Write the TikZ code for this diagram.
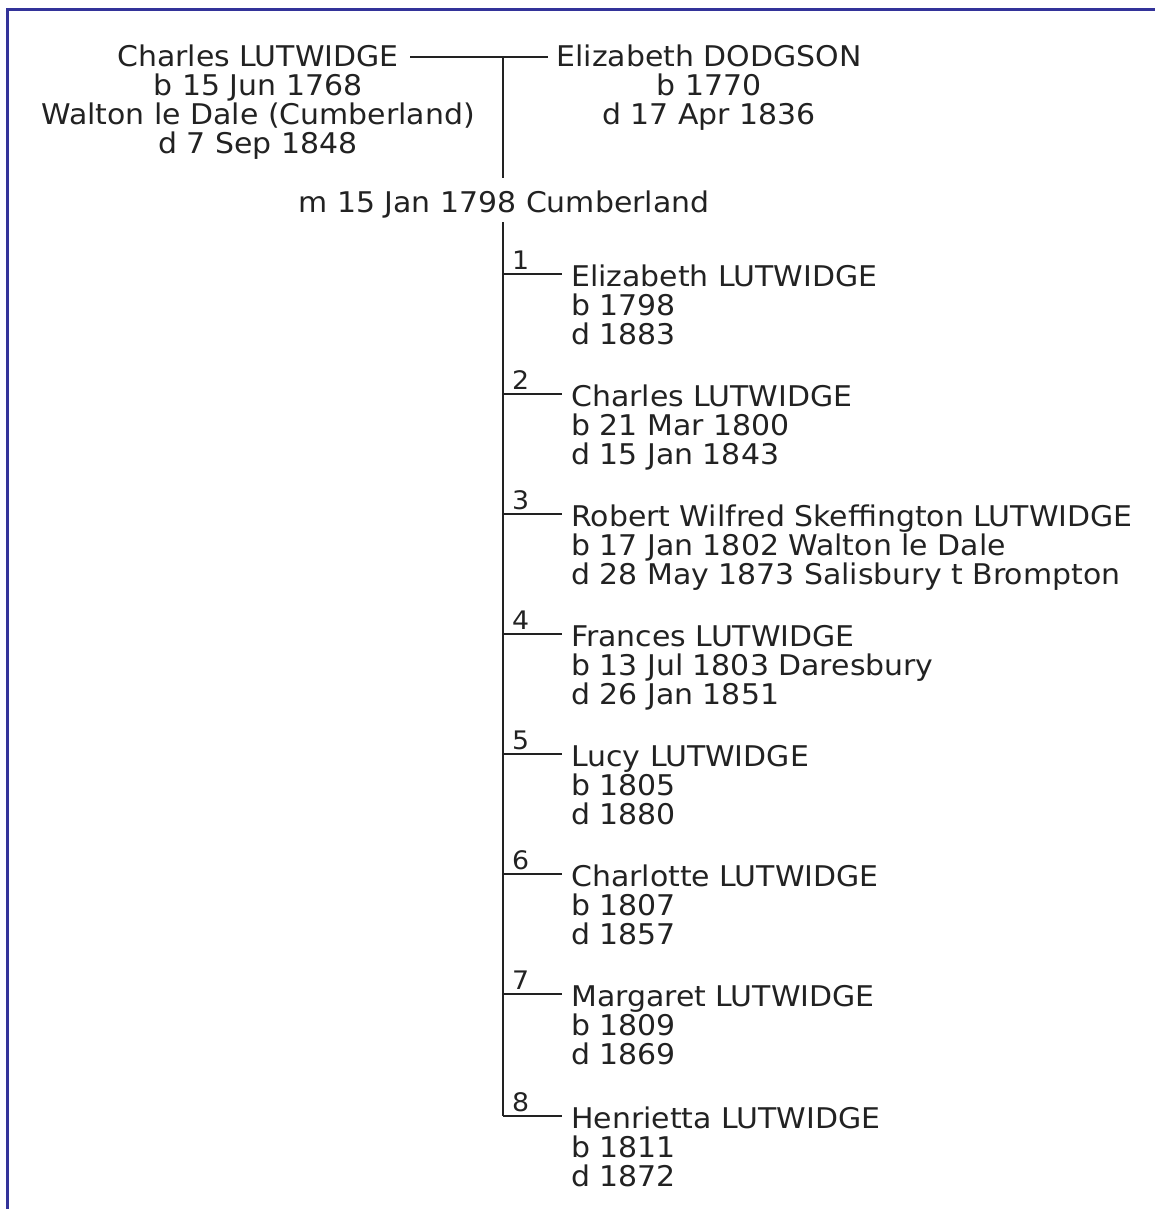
\documentclass[tikz,border=0pt]{standalone}
\usepackage{fontspec}
\setmainfont[FakeStretch=1.05]{DejaVu Sans}
\definecolor{frameblue}{RGB}{51,51,153}
\definecolor{txt}{RGB}{34,34,34}
\definecolor{ln}{RGB}{34,34,34}
\begin{document}
\begin{tikzpicture}[x=1pt,y=-1pt,
  person/.style={inner sep=0pt, text=txt, font=\fontsize{28.5}{29}\selectfont},
  numlab/.style={inner sep=0pt, text=txt, anchor=base west, font=\fontsize{25.5}{27}\selectfont},
  child/.style={person, align=left, anchor=base west},
  link/.style={draw=ln, line width=2.5pt}]
\useasboundingbox (0,0) rectangle (1155,1209);
\draw[frameblue, line width=3pt] (7,1215) -- (7,10) -- (1165,10);

% parents (base anchor = baseline of last line)
\node[person, align=center, anchor=base] (husb) at (258,154) {Charles LUTWIDGE\\b 15 Jun 1768\\Walton le Dale (Cumberland)\\d 7 Sep 1848};
\node[person, align=center, anchor=base] (wife) at (709,125) {Elizabeth DODGSON\\b 1770\\d 17 Apr 1836};
\node[person, anchor=base] (marr) at (504,212) {m 15 Jan 1798 Cumberland};

\coordinate (hL) at (410,57);
\coordinate (hR) at (548,57);
\coordinate (mj) at (503,57);
\coordinate (mbot) at (503,178);
\coordinate (trunk) at (503,222);
\draw[link] (hL) -- (hR);
\draw[link] (mj) -- (mbot);

% children
\node[child] (c1) at (571,344) {Elizabeth LUTWIDGE\\b 1798\\d 1883};
\node[child] (c2) at (571,464) {Charles LUTWIDGE\\b 21 Mar 1800\\d 15 Jan 1843};
\node[child] (c3) at (571,584) {Robert Wilfred Skeffington LUTWIDGE\\b 17 Jan 1802 Walton le Dale\\d 28 May 1873 Salisbury t Brompton};
\node[child] (c4) at (571,704) {Frances LUTWIDGE\\b 13 Jul 1803 Daresbury\\d 26 Jan 1851};
\node[child] (c5) at (571,824) {Lucy LUTWIDGE\\b 1805\\d 1880};
\node[child] (c6) at (571,944) {Charlotte LUTWIDGE\\b 1807\\d 1857};
\node[child] (c7) at (571,1064) {Margaret LUTWIDGE\\b 1809\\d 1869};
\node[child] (c8) at (571,1186) {Henrietta LUTWIDGE\\b 1811\\d 1872};

\foreach \k/\y in {1/274,2/394,3/514,4/634,5/754,6/874,7/994,8/1116}{
  \coordinate (t\k) at (503,\y);
  \node[numlab] (n\k) at (512,\y-5) {\k};
  \draw[link] (t\k) -- ([xshift=-9pt]c\k.west |- t\k);
}
\draw[link] (trunk) -- (t8);
\end{tikzpicture}
\end{document}
